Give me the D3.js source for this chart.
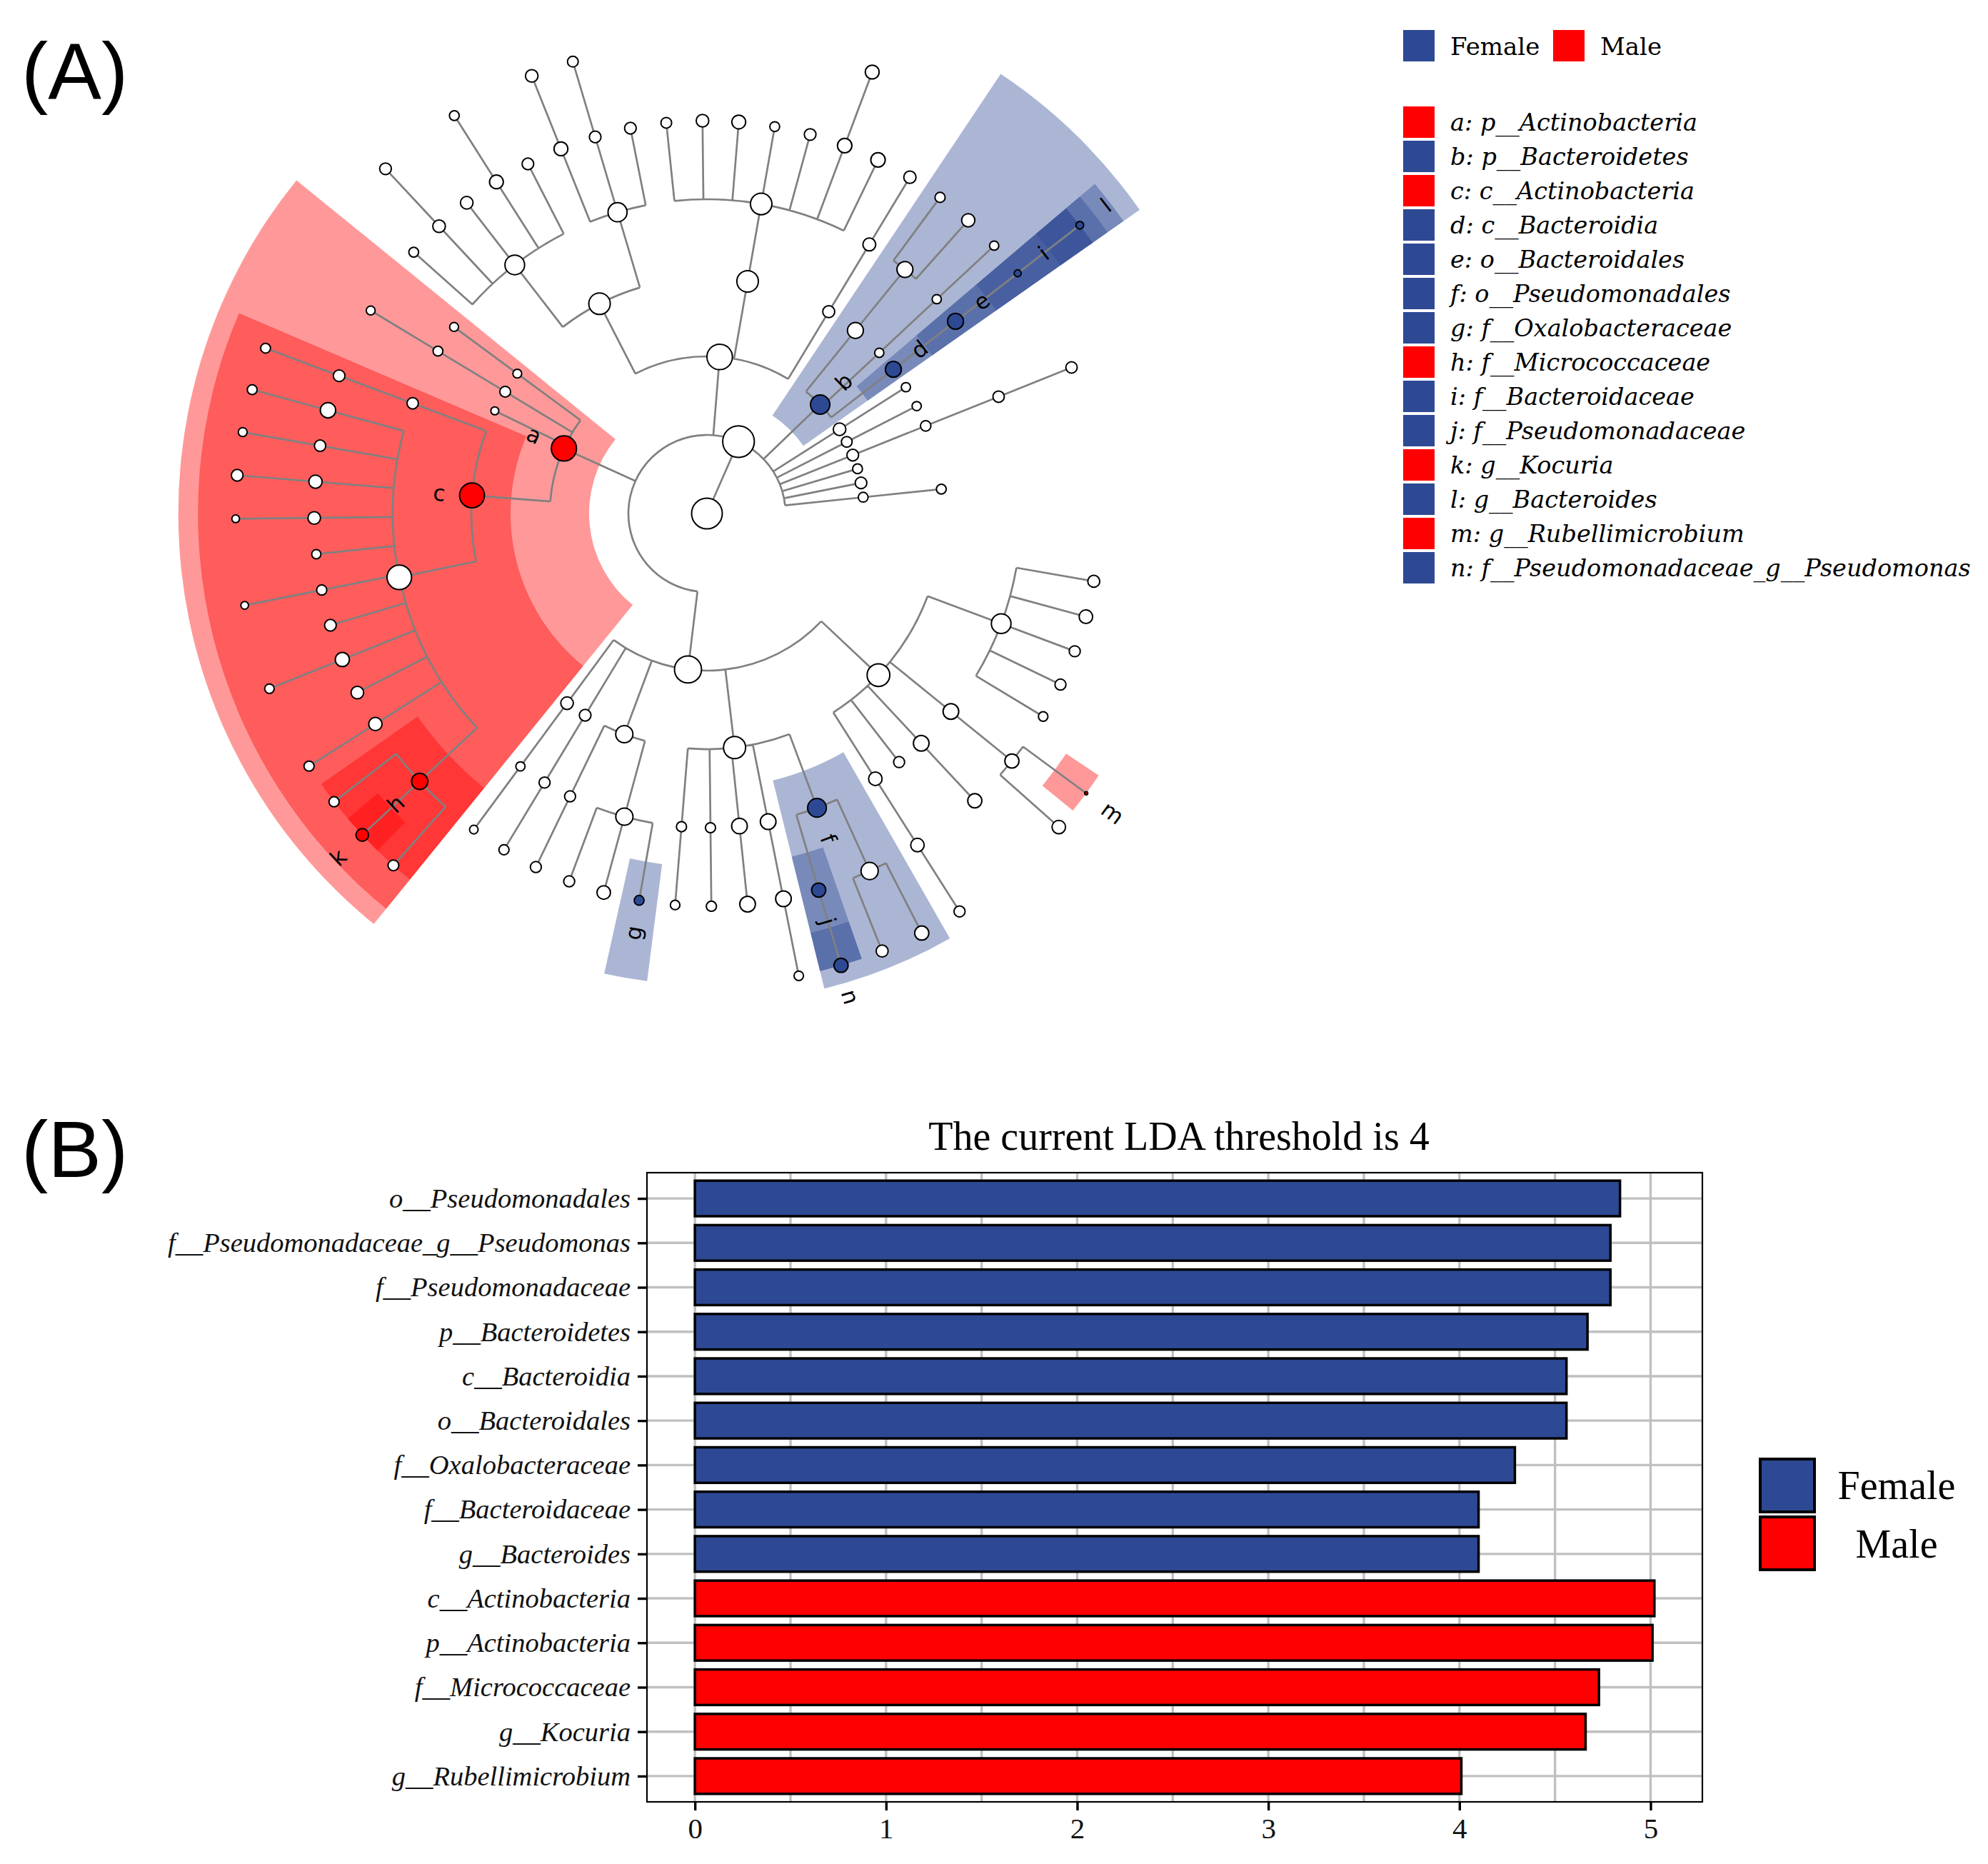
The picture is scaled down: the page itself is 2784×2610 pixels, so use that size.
<!DOCTYPE html>
<html>
<head>
<meta charset="utf-8">
<title>LEfSe cladogram and LDA scores</title>
<script src="https://cdn.jsdelivr.net/npm/d3@7/dist/d3.min.js"></script>
<style>
  html, body { margin: 0; padding: 0; background: #fff; }
  svg { display: block; }
</style>
</head>
<body>
<svg id="fig" width="2784" height="2610"></svg>
<script>
/* ================= data ================= */
const groups = ["Female", "Male"];

// biomarkers marked on the cladogram
const markerKeys  = ["a","b","c","d","e","f","g","h","i","j","k","l","m","n"];
const markerTaxa  = ["p__Actinobacteria","p__Bacteroidetes","c__Actinobacteria","c__Bacteroidia",
                     "o__Bacteroidales","o__Pseudomonadales","f__Oxalobacteraceae","f__Micrococcaceae",
                     "f__Bacteroidaceae","f__Pseudomonadaceae","g__Kocuria","g__Bacteroides",
                     "g__Rubellimicrobium","f__Pseudomonadaceae_g__Pseudomonas"];
const markerGroup = ["Male","Female","Male","Female","Female","Female","Female","Male",
                     "Female","Female","Male","Female","Male","Female"];

// cladogram nodes: [abundance score, biomarker key, children]
const phylumBottom = [8.8, "", [
  [7.4, "", [
    [6.4, "", [[3.9], [4.4], [3.6], [3.6], [3.1]]],
    [5.1, "", [[4.6, "", [[1.0, "m"], [4.4]]]]],
    [5.1, "", [[4.6]]],
    [3.6],
    [4.4, "", [[4.4, "", [[3.6]]]]]
  ]],
  [7.2, "", [
    [6.1, "f", [[5.6, "", [[4.6], [3.9]]], [4.6, "j", [[4.6, "n"]]]]],
    [5.1, "", [[5.1, "", [[3.1]]]]],
    [5.1, "", [[5.1]]],
    [3.3, "", [[3.3]]],
    [3.3, "", [[3.1]]]
  ]],
  [5.6, "", [
    [5.6, "", [[3.2, "g"], [4.4], [3.6]]],
    [3.6, "", [[3.6]]]
  ]],
  [3.8, "", [[3.6, "", [[3.3]]]]],
  [4.1, "", [[3.0, "", [[2.8]]]]]
]];

const phylumActino = [8.2, "a", [
  [8.1, "c", [
    [8.0, "", [
      [5.3, "h", [[3.5], [4.1, "k"], [3.3]]],
      [4.3, "", [[3.3]]],
      [4.1],
      [4.6, "", [[3.1]]],
      [3.8],
      [3.3, "", [[2.5]]],
      [3.0],
      [4.1, "", [[2.5]]],
      [4.3, "", [[3.8]]],
      [3.7, "", [[2.9]]],
      [5.0, "", [[3.2]]]
    ]],
    [3.7, "", [[3.8, "", [[3.2]]]]]
  ]],
  [2.6],
  [3.5, "", [[3.2, "", [[2.9]]]]],
  [2.9, "", [[2.9]]]
]];

const phylumTop = [8.3, "", [
  [7.0, "", [
    [6.4, "", [[3.2], [4.1, "", [[3.8]]], [4.1], [4.5, "", [[3.2]]], [3.8]]],
    [6.2, "", [[4.5, "", [[4.1]]], [3.8, "", [[3.5]]], [3.8]]]
  ]],
  [7.0, "", [[7.0, "", [[3.5], [4.1], [4.5], [3.2], [3.8], [4.7, "", [[4.5]]], [4.7]]]]],
  [3.9, "", [[4.2, "", [[4.0]]]]]
]];

const phylumBactero = [6.3, "b", [
  [5.2, "", [[5.2, "", [[3.3], [4.3]]]]],
  [3.0, "", [[3.0, "", [[3.0]]]]],
  [5.2, "d", [[5.2, "e", [[2.3, "i", [[2.5, "l"]]]]]]]
]];

const minorPhyla = [
  [4.1, "", [[3.0]]],
  [3.5, "", [[3.0]]],
  [3.8, "", [[3.4, "", [[3.7, "", [[3.7]]]]]]],
  [3.2],
  [3.8],
  [3.2, "", [[3.2]]]
];

const kingdom = [10.3, "", [phylumBottom, phylumActino, phylumTop, phylumBactero, ...minorPhyla]];
const treeRoot = [10.0, "", [kingdom]];

// LDA effect sizes (panel B)
const ldaTaxa  = ["o__Pseudomonadales","f__Pseudomonadaceae_g__Pseudomonas","f__Pseudomonadaceae",
                  "p__Bacteroidetes","c__Bacteroidia","o__Bacteroidales","f__Oxalobacteraceae",
                  "f__Bacteroidaceae","g__Bacteroides","c__Actinobacteria","p__Actinobacteria",
                  "f__Micrococcaceae","g__Kocuria","g__Rubellimicrobium"];
const ldaScore = [4.84, 4.79, 4.79, 4.67, 4.56, 4.56, 4.29, 4.10, 4.10, 5.02, 5.01, 4.73, 4.66, 4.01];
const ldaGroup = ["Female","Female","Female","Female","Female","Female","Female","Female","Female",
                  "Male","Male","Male","Male","Male"];
const ldaTicks = [0, 1, 2, 3, 4, 5];
const ldaThreshold = 4;

/* ================= setup ================= */
const svg = d3.select("#fig");
const color = d3.scaleOrdinal().domain(groups).range(["#2E4994", "#FF0000"]);
const groupOf = new Map(markerKeys.map((k, i) => [k, markerGroup[i]]));
const deg = Math.PI / 180;

// panel tags
svg.selectAll("text.tag").data(["(A)", "(B)"]).join("text")
  .attr("class", "tag")
  .attr("x", 30)
  .attr("y", (d, i) => i ? 1648 : 138)
  .attr("font-family", "Liberation Sans, Arial, sans-serif")
  .attr("font-size", 112)
  .text(d => d);

/* ================= panel A: cladogram ================= */
const CX = 990, CY = 719, LEVEL = 110, GAP_CENTER = 2;
const nodeR = d3.scaleLinear().domain([0, 10]).range([0, 21.5]);

const root = d3.hierarchy(treeRoot, d => d[2]);
const nLeaves = root.leaves().length;
const slot = 360 / (nLeaves + 2);
d3.cluster().size([slot * nLeaves, 1]).separation(() => 1)(root);
root.each(d => { d.theta = d.x + GAP_CENTER + slot; d.r = d.depth * LEVEL; });

const px = (r, t) => CX + r * Math.cos(t * deg);
const py = (r, t) => CY + r * Math.sin(t * deg);

const gA = svg.append("g");

// clade shading
const marked = root.descendants().filter(d => d.data[1]).sort((a, b) => a.depth - b.depth);
const wedge = d3.arc()
  .innerRadius(d => d.r - LEVEL / 2)
  .outerRadius(d => Math.max(6, 6.73 - 0.25 * (d.depth - 2)) * LEVEL)
  .startAngle(d => (d3.min(d.leaves(), l => l.theta) - slot / 2 + 90) * deg)
  .endAngle(d => (d3.max(d.leaves(), l => l.theta) + slot / 2 + 90) * deg);

gA.append("g").attr("transform", `translate(${CX},${CY})`)
  .selectAll("path").data(marked).join("path")
  .attr("d", wedge)
  .attr("fill", d => color(groupOf.get(d.data[1])))
  .attr("fill-opacity", 0.4);

// branches: arc at parent level + radial spokes
const branches = d3.path();
root.each(p => {
  if (!p.children) return;
  const k = p.children;
  if (p.r > 0 && k.length > 1) {
    branches.moveTo(px(p.r, k[0].theta), py(p.r, k[0].theta));
    branches.arc(CX, CY, p.r, k[0].theta * deg, k[k.length - 1].theta * deg);
  }
  k.forEach(c => {
    branches.moveTo(px(p.r, c.theta), py(p.r, c.theta));
    branches.lineTo(px(c.r, c.theta), py(c.r, c.theta));
  });
});
gA.append("path")
  .attr("d", branches.toString())
  .attr("fill", "none")
  .attr("stroke", "#808080")
  .attr("stroke-width", 2.7);

// nodes
gA.append("g").selectAll("circle").data(root.descendants()).join("circle")
  .attr("cx", d => px(d.r, d.theta))
  .attr("cy", d => py(d.r, d.theta))
  .attr("r", d => nodeR(d.data[0]))
  .attr("fill", d => d.data[1] ? color(groupOf.get(d.data[1])) : "#fff")
  .attr("stroke", "#000")
  .attr("stroke-width", 2);

// letters
gA.append("g").selectAll("text").data(marked).join("text")
  .attr("transform", d => {
    const r = d.r + 46, t = d.theta;
    const rot = (t > 90 && t < 270) ? t - 180 : t;
    return `translate(${px(r, t)},${py(r, t)}) rotate(${rot})`;
  })
  .attr("text-anchor", "middle")
  .attr("dominant-baseline", "central")
  .attr("font-family", "DejaVu Sans, sans-serif")
  .attr("font-size", 31)
  .text(d => d.data[1]);

// legend of panel A
const legA = svg.append("g").attr("font-family", "DejaVu Serif, serif").attr("fill", "#000");
const legAx = [1965, 2175];
legA.selectAll("rect.grp").data(groups).join("rect")
  .attr("class", "grp")
  .attr("x", (d, i) => legAx[i]).attr("y", 42)
  .attr("width", 44).attr("height", 44)
  .attr("fill", d => color(d));
legA.selectAll("text.grp").data(groups).join("text")
  .attr("class", "grp")
  .attr("x", (d, i) => legAx[i] + 66).attr("y", 77)
  .attr("font-size", 34)
  .text(d => d);

legA.selectAll("rect.key").data(markerKeys).join("rect")
  .attr("class", "key")
  .attr("x", 1965).attr("y", (d, i) => 149 + i * 48)
  .attr("width", 44).attr("height", 44)
  .attr("fill", (d, i) => color(markerGroup[i]));
legA.selectAll("text.key").data(markerKeys).join("text")
  .attr("class", "key")
  .attr("x", 2031).attr("y", (d, i) => 183 + i * 48)
  .attr("font-size", 33.5)
  .attr("font-style", "italic")
  .text((d, i) => `${d}: ${markerTaxa[i]}`);

/* ================= panel B: LDA bar chart ================= */
const bLeft = 906, bRight = 2384, bTop = 1642, bBottom = 2523;
const xMax = d3.max(ldaScore);
const pad = xMax * 0.05;
const x = d3.scaleLinear().domain([-pad, xMax + pad]).range([bLeft, bRight]);
const y = d3.scalePoint().domain(ldaTaxa).range([bTop, bBottom]).padding(0.58);
const barH = y.step() * 0.8;

const gB = svg.append("g");

// grid
const minor = d3.range(0.5, xMax + pad, 1);
gB.append("g").selectAll("line").data([...ldaTicks, ...minor]).join("line")
  .attr("x1", d => x(d)).attr("x2", d => x(d))
  .attr("y1", bTop).attr("y2", bBottom)
  .attr("stroke", "#c0c0c0").attr("stroke-width", 3.4);
gB.append("g").selectAll("line").data(ldaTaxa).join("line")
  .attr("x1", bLeft).attr("x2", bRight)
  .attr("y1", d => y(d)).attr("y2", d => y(d))
  .attr("stroke", "#c0c0c0").attr("stroke-width", 3.4);

// bars
gB.append("g").selectAll("rect").data(ldaTaxa).join("rect")
  .attr("x", x(0))
  .attr("y", d => y(d) - barH / 2)
  .attr("width", (d, i) => x(ldaScore[i]) - x(0))
  .attr("height", barH)
  .attr("fill", (d, i) => color(ldaGroup[i]))
  .attr("stroke", "#000")
  .attr("stroke-width", 3.5);

// panel border
gB.append("rect")
  .attr("x", bLeft).attr("y", bTop)
  .attr("width", bRight - bLeft).attr("height", bBottom - bTop)
  .attr("fill", "none").attr("stroke", "#000").attr("stroke-width", 2.2);

// axes
const yAxis = d3.axisLeft(y).tickSize(13).tickPadding(10);
gB.append("g").attr("transform", `translate(${bLeft},0)`).call(yAxis)
  .call(g => g.select(".domain").remove())
  .call(g => g.selectAll(".tick line").attr("stroke-width", 3.4))
  .call(g => g.selectAll(".tick text")
    .attr("font-family", "Liberation Serif, Times New Roman, serif")
    .attr("font-style", "italic")
    .attr("font-size", 38.5)
    .attr("fill", "#111"));

const xAxis = d3.axisBottom(x).tickValues(ldaTicks).tickFormat(d3.format("d")).tickSize(12).tickPadding(10);
gB.append("g").attr("transform", `translate(0,${bBottom})`).call(xAxis)
  .call(g => g.select(".domain").remove())
  .call(g => g.selectAll(".tick line").attr("stroke-width", 3.4))
  .call(g => g.selectAll(".tick text")
    .attr("font-family", "Liberation Serif, Times New Roman, serif")
    .attr("font-size", 41)
    .attr("fill", "#111"));

// title
gB.append("text")
  .attr("x", (bLeft + bRight) / 2 + 6).attr("y", 1610)
  .attr("text-anchor", "middle")
  .attr("font-family", "Liberation Serif, Times New Roman, serif")
  .attr("font-size", 56)
  .text(`The current LDA threshold is ${ldaThreshold}`);

// legend of panel B
const legB = gB.append("g").attr("font-family", "Liberation Serif, Times New Roman, serif");
legB.selectAll("rect").data(groups).join("rect")
  .attr("x", 2465).attr("y", (d, i) => 2043 + i * 81)
  .attr("width", 76).attr("height", 74)
  .attr("fill", d => color(d))
  .attr("stroke", "#000").attr("stroke-width", 4);
legB.selectAll("text").data(groups).join("text")
  .attr("x", 2656).attr("y", (d, i) => 2099 + i * 82)
  .attr("text-anchor", "middle")
  .attr("font-size", 56)
  .text(d => d);
</script>
</body>
</html>
